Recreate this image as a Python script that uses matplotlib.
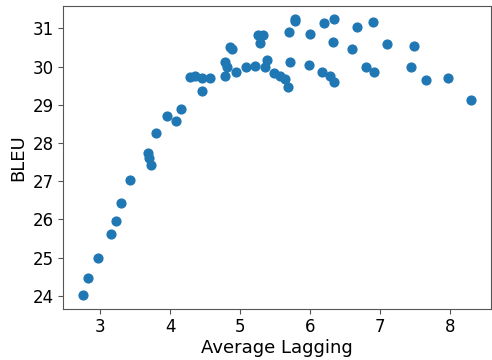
import matplotlib
matplotlib.use("Agg")
import matplotlib.pyplot as plt
from matplotlib.ticker import MultipleLocator

# data
lagging = [2.75, 2.83, 2.97, 3.16, 3.23, 3.30, 3.42, 3.68, 3.70, 3.72,
           3.80, 3.95, 4.09, 4.15, 4.29, 4.36, 4.45, 4.46, 4.57, 4.78,
           4.79, 4.81, 4.85, 4.89, 4.94, 5.08, 5.22, 5.26, 5.33, 5.29,
           5.38, 5.36, 5.48, 5.57, 5.64, 5.68, 5.70, 5.72, 5.78, 5.78,
           5.98, 6.00, 6.17, 6.20, 6.28, 6.34, 6.33, 6.34, 6.60, 6.68,
           6.80, 6.90, 6.92, 7.10, 7.44, 7.49, 7.66, 7.98, 8.31]
bleu = [24.02, 24.47, 25.00, 25.61, 25.97, 26.43, 27.04, 27.73, 27.61, 27.43,
        28.27, 28.71, 28.58, 28.88, 29.72, 29.75, 29.71, 29.36, 29.70, 29.74,
        30.13, 30.00, 30.50, 30.46, 29.86, 29.98, 30.01, 30.82, 30.82, 30.61,
        30.18, 29.99, 29.83, 29.76, 29.67, 29.46, 30.89, 30.12, 31.23, 31.18,
        30.03, 30.86, 29.85, 31.15, 29.76, 29.59, 30.65, 31.23, 30.47, 31.03,
        30.00, 31.16, 29.86, 30.60, 30.00, 30.54, 29.64, 29.69, 29.13]

fig = plt.figure(figsize=(4.92, 3.6), dpi=100)
ax = fig.add_axes([0.1287, 0.1417, 0.869, 0.8425])

ax.scatter(lagging, bleu, s=40, color="#1f77b4")

ax.xaxis.set_major_locator(MultipleLocator(1))
ax.yaxis.set_major_locator(MultipleLocator(1))
ax.set_xlabel("Average Lagging", fontsize=13, labelpad=2)
ax.set_ylabel("BLEU", fontsize=13, labelpad=4)
ax.tick_params(labelsize=12, color="#555555", pad=3)
for sp in ax.spines.values():
    sp.set_color("#555555")

fig.savefig("out.png", dpi=100)
